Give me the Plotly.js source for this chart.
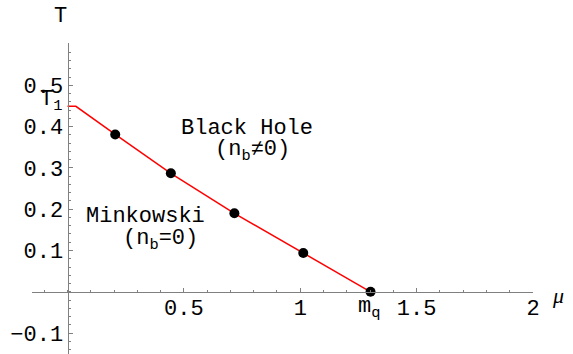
<!DOCTYPE html>
<html>
<head>
<meta charset="utf-8">
<script src="https://cdn.plot.ly/plotly-3.0.1.min.js"></script>
<style>html,body{margin:0;padding:0;background:#fff;}#chart{width:573px;height:354px;}</style>
</head>
<body>
<div id="chart"></div>
<script>
// Phase boundary curve (mu, T)
const curveMu = [0, 0.036, 0.205, 0.444, 0.717, 1.013, 1.302];
const curveT  = [0.449, 0.449, 0.381, 0.287, 0.190, 0.094, 0.0];
// Marked points
const dotMu = [0.205, 0.444, 0.717, 1.013, 1.302];
const dotT  = [0.381, 0.287, 0.190, 0.094, 0.0];
// Tick labels
const xTickVals = [0.5, 1, 1.5, 2];
const xTickText = ['0.5', '1', '1.5', '2'];
const yTickVals = [-0.1, 0.1, 0.2, 0.3, 0.4, 0.5];
const yTickText = ['\u22120.1', '0.1', '0.2', '0.3', '0.4', '0.5'];
// Special values
const T1 = 0.449;
const mq = 1.302;

const W = 573, H = 354;
const FONT = 'Liberation Mono, Courier New, monospace';
const AX = '#808080';

const traces = [
  {x: curveMu, y: curveT, mode: 'lines', line: {color: '#ff0000', width: 1.5}, hoverinfo: 'skip'},
  {x: dotMu, y: dotT, mode: 'markers', marker: {color: '#000', size: 10}, cliponaxis: false, hoverinfo: 'skip'}
];

const layout = {
  width: W, height: H,
  margin: {l: 0, r: 0, t: 0, b: 0},
  paper_bgcolor: '#fff', plot_bgcolor: 'rgba(0,0,0,0)',
  showlegend: false,
  font: {family: FONT, size: 22, color: '#000'},
  xaxis: {
    domain: [32 / W, 533 / W], range: [-0.1525, 2.0],
    anchor: 'free', position: (H - 291.8) / H,
    showgrid: false, zeroline: false, showline: true, linecolor: AX, linewidth: 1,
    ticks: 'inside', ticklen: 4, tickcolor: AX, tickwidth: 1,
    tickmode: 'array', tickvals: xTickVals, ticktext: xTickText,
    ticklabelstandoff: -4,
    tickfont: {family: FONT, size: 22, color: '#000'},
    minor: {ticks: 'inside', tickmode: 'linear', tick0: 0, dtick: 0.1, ticklen: 2, tickcolor: AX, showgrid: false},
    automargin: false, fixedrange: true
  },
  yaxis: {
    domain: [0, (H - 43) / H], range: [-0.1506, 0.6024],
    anchor: 'free', position: 67.5 / W,
    showgrid: false, zeroline: false, showline: true, linecolor: AX, linewidth: 1,
    ticks: 'inside', ticklen: 4, tickcolor: AX, tickwidth: 1,
    tickmode: 'array', tickvals: yTickVals, ticktext: yTickText,
    tickfont: {family: FONT, size: 22, color: '#000'},
    minor: {ticks: 'inside', tickmode: 'linear', tick0: 0, dtick: 0.02, ticklen: 2, tickcolor: AX, showgrid: false},
    automargin: false, fixedrange: true
  },
  annotations: [
    {text: 'T', xref: 'paper', yref: 'paper', x: 60 / W, y: 1 - 17 / H, showarrow: false, xanchor: 'center', yanchor: 'middle', font: {family: FONT, size: 22}},
    {text: '<i>μ</i>', xref: 'paper', yref: 'paper', x: 558 / W, y: 1 - 295 / H, showarrow: false, xanchor: 'center', yanchor: 'middle', font: {family: 'Liberation Serif, serif', size: 22}},
    {text: 'T<sub>1</sub>', xref: 'x', yref: 'y', x: 0, y: T1, xshift: -3, yshift: 5, showarrow: false, xanchor: 'right', yanchor: 'middle', font: {family: FONT, size: 22}},
    {text: 'm<sub>q</sub>', xref: 'x', yref: 'y', x: mq, y: 0, xshift: -2, yshift: -16, showarrow: false, xanchor: 'center', yanchor: 'middle', font: {family: FONT, size: 22}},
    {text: 'Black Hole', xref: 'paper', yref: 'paper', x: 247 / W, y: 1 - 128 / H, showarrow: false, xanchor: 'center', yanchor: 'middle', font: {family: FONT, size: 22}},
    {text: '(n<sub>b</sub>≠0)', xref: 'paper', yref: 'paper', x: 252 / W, y: 1 - 151 / H, showarrow: false, xanchor: 'center', yanchor: 'middle', font: {family: FONT, size: 22}},
    {text: 'Minkowski', xref: 'paper', yref: 'paper', x: 145 / W, y: 1 - 216 / H, showarrow: false, xanchor: 'center', yanchor: 'middle', font: {family: FONT, size: 22}},
    {text: '(n<sub>b</sub>=0)', xref: 'paper', yref: 'paper', x: 160 / W, y: 1 - 240 / H, showarrow: false, xanchor: 'center', yanchor: 'middle', font: {family: FONT, size: 22}}
  ]
};

Plotly.newPlot('chart', traces, layout, {staticPlot: true, displayModeBar: false});
</script>
</body>
</html>
